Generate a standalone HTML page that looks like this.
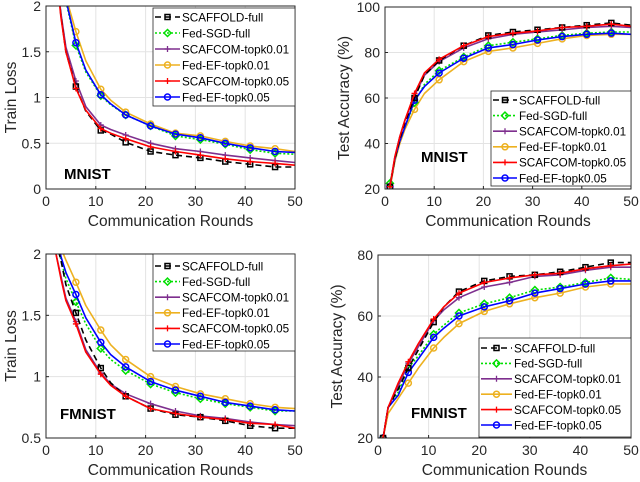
<!DOCTYPE html>
<html><head><meta charset="utf-8">
<style>
body{margin:0;background:#fff;}
svg{display:block;font-family:"Liberation Sans",sans-serif;}
</style></head>
<body>
<svg id="fig" width="640" height="482" viewBox="0 0 640 482" xmlns="http://www.w3.org/2000/svg"></svg>
<script>
// ---- series names / styles ----
const seriesNames = ["SCAFFOLD-full","Fed-SGD-full","SCAFCOM-topk0.01","Fed-EF-topk0.01","SCAFCOM-topk0.05","Fed-EF-topk0.05"];
// ---- Panel 1: MNIST train loss ----
const p1Rounds = [2,3,4,6,8,11,13,16,21,26,31,36,41,46,50];
const p1Scaffold = [2.4,1.9,1.5,1.12,0.85,0.64,0.6,0.51,0.41,0.37,0.34,0.30,0.27,0.24,0.24];
const p1FedSgd  = [3.0,2.4,2.05,1.57,1.28,1.02,0.92,0.81,0.69,0.58,0.54,0.49,0.43,0.39,0.38];
const p1Scafcom1 = [2.4,1.92,1.55,1.18,0.9,0.70,0.65,0.59,0.50,0.44,0.41,0.37,0.34,0.31,0.29];
const p1FedEf1 = [3.0,2.5,2.1,1.72,1.4,1.09,0.97,0.84,0.71,0.61,0.58,0.52,0.47,0.44,0.41];
const p1Scafcom5 = [2.4,1.88,1.5,1.1,0.86,0.66,0.61,0.55,0.46,0.41,0.37,0.33,0.30,0.28,0.26];
const p1FedEf5 = [3.0,2.45,2.07,1.60,1.3,1.03,0.93,0.81,0.69,0.60,0.56,0.50,0.45,0.41,0.40];
// ---- Panel 2: MNIST test accuracy ----
const p2Rounds = [1,2,3,4,6,8,11,16,21,26,31,36,41,46,50];
const p2Scaffold = [21,33,42,49,60,70,76.5,83,87.5,89,90,91,92,93,92];
const p2FedSgd  = [22.5,33,41,47,58,66,72,78,83,84.5,86,87.5,88.5,89,89];
const p2Scafcom1 = [21,34,43,50,61,70,76,82,86,88,89,90,91,91.5,91];
const p2FedEf1 = [20,32,40,46,55,62,68,76,80.5,82,84,86,87.5,88,88];
const p2Scafcom5 = [21,34,43,50,62,71,77,83,87,88.5,89.5,91,91.5,92.5,91.5];
const p2FedEf5 = [21,33,41,47,59,65,71,77.5,82,83.5,85.5,87,88,88.5,88];
// ---- Panel 3: FMNIST train loss ----
const p3Rounds = [2,3,4,6,8,11,13,16,21,26,31,36,41,46,50];
const p3Scaffold = [2.1,1.95,1.75,1.52,1.3,1.07,0.95,0.84,0.74,0.69,0.67,0.64,0.60,0.58,0.58];
const p3FedSgd  = [2.2,1.95,1.8,1.61,1.43,1.23,1.14,1.05,0.94,0.87,0.82,0.78,0.75,0.72,0.72];
const p3Scafcom1 = [2.0,1.82,1.64,1.45,1.22,1.03,0.94,0.86,0.78,0.72,0.68,0.66,0.63,0.61,0.60];
const p3FedEf1 = [2.3,2.05,1.95,1.77,1.58,1.38,1.26,1.14,1.0,0.92,0.86,0.82,0.78,0.75,0.74];
const p3Scafcom5 = [2.0,1.8,1.62,1.43,1.2,1.02,0.93,0.84,0.74,0.70,0.67,0.65,0.62,0.61,0.58];
const p3FedEf5 = [2.25,1.98,1.85,1.67,1.48,1.28,1.18,1.08,0.96,0.89,0.84,0.79,0.76,0.73,0.72];
// ---- Panel 4: FMNIST test accuracy ----
const p4Rounds = [1,2,4,6,8,11,13,16,21,26,31,36,41,46,50];
const p4Scaffold = [20,30,36,43,49,58,63,68,71.5,73,73.5,74.5,76,77.5,77.5];
const p4FedSgd  = [20,30,35,43,47,54,57,61,64,66,68.5,69.5,71,72.5,72];
const p4Scafcom1 = [20,30,37,44.5,50,58.5,62,66,69.5,71,73,73.5,75,76,76];
const p4FedEf1 = [20,28,33,38,43,49.5,53,57.5,61.5,64,66,67.5,69.5,70.5,70.5];
const p4Scafcom5 = [20,30,38,45,51,59,63,67.5,71,72.5,73.5,74,75.5,76.5,77];
const p4FedEf5 = [20,30,34,41.5,46,53,56,60,63,65,67.5,69,70.5,71.5,71.5];

const styles = [
 {c:"#000000",dash:"6,4",m:"square"},
 {c:"#00e000",dash:"2,2",m:"diamond"},
 {c:"#7E2F8E",dash:"",m:"plus"},
 {c:"#EDB120",dash:"",m:"circle"},
 {c:"#FF0000",dash:"",m:"plus"},
 {c:"#0000FF",dash:"",m:"circle"}
];
const NS="http://www.w3.org/2000/svg";
const svg=document.getElementById('fig');
function mk(tag,attrs,parent){const e=document.createElementNS(NS,tag);for(const k in attrs)e.setAttribute(k,attrs[k]);(parent||svg).appendChild(e);return e;}

function marker(g,type,x,y,c){
  let e;
  if(type==="square") e=mk('rect',{x:x-2.5,y:y-2.5,width:5,height:5,fill:"none",stroke:c,"stroke-width":1.5},g);
  else if(type==="diamond") e=mk('polygon',{points:`${x},${y-3.5} ${x+3.5},${y} ${x},${y+3.5} ${x-3.5},${y}`,fill:"none",stroke:c,"stroke-width":1.5},g);
  else if(type==="circle") e=mk('circle',{cx:x,cy:y,r:3,fill:"none",stroke:c,"stroke-width":1.5},g);
  else e=mk('path',{d:`M${x-3},${y}H${x+3}M${x},${y-3}V${y+3}`,stroke:c,"stroke-width":1.3},g);
  
  
}

function panel(cfg){
  const {id,x0,x1,y0,y1,ymin,ymax,yticks,ylabels,ytitle,rounds,series,dataset,dsx,dsy,leg}=cfg;
  const X=v=>x0+(v-0)/(50-0)*(x1-x0);
  const Y=v=>y1-(v-ymin)/(ymax-ymin)*(y1-y0);
  const g=mk('g',{});
  
  
  [0,10,20,30,40,50].forEach(t=>{ if(t>0&&t<50){const l=mk('line',{x1:X(t),x2:X(t),y1:y0,y2:y1,stroke:"#e3e3e3","stroke-width":1},g);}});
  yticks.forEach(t=>{ if(t>ymin&&t<ymax){const l=mk('line',{x1:x0,x2:x1,y1:Y(t),y2:Y(t),stroke:"#e3e3e3","stroke-width":1},g);}});
  const cp=mk('clipPath',{id:id+"-clip"},g);
  mk('rect',{x:x0,y:y0,width:x1-x0,height:y1-y0},cp);
  const sg=mk('g',{"clip-path":`url(#${id}-clip)`},g);
  
  
  const order=[3,1,5,2,0,4];
  order.forEach(i=>{
    const vals=series[i], st=styles[i];
    const pts=rounds.map((r,k)=>X(r).toFixed(1)+","+Y(vals[k]).toFixed(1)).join(" ");
    const pl=mk('polyline',{points:pts,fill:"none",stroke:st.c,"stroke-width":1.6,"stroke-dasharray":st.dash,"stroke-linejoin":"round"},sg);
    
    
    rounds.forEach((r,k)=>{ if(r%5===1 && vals[k]<=ymax) marker(sg,st.m,X(r),Y(vals[k]),st.c); });
  });
  const bx=mk('rect',{x:x0,y:y0,width:x1-x0,height:y1-y0,fill:"none",stroke:"#262626","stroke-width":1},g);
  
  
  [0,10,20,30,40,50].forEach(t=>{
    mk('line',{x1:X(t),x2:X(t),y1:y1,y2:y1-3,stroke:"#262626"},g);
    const tx=mk('text',{x:X(t),y:y1+17,"text-anchor":"middle","font-size":14,fill:"#262626"},g);
    tx.textContent=t;
    
    
  });
  yticks.forEach((t,k)=>{
    mk('line',{x1:x0,x2:x0+3,y1:Y(t),y2:Y(t),stroke:"#262626"},g);
    const tx=mk('text',{x:x0-5,y:Y(t)+5,"text-anchor":"end","font-size":14,fill:"#262626"},g);
    tx.textContent=ylabels[k];
    
    
  });
  const xt=mk('text',{x:(x0+x1)/2,y:y1+37,"text-anchor":"middle","font-size":15.5,fill:"#262626"},g);
  xt.textContent="Communication Rounds";
  
  
  const yt=mk('text',{x:0,y:0,"text-anchor":"middle","font-size":15.5,fill:"#262626",transform:`translate(${cfg.ytx},${(y0+y1)/2}) rotate(-90)`},g);
  yt.textContent=ytitle;
  
  
  const ds=mk('text',{x:dsx,y:dsy,"font-size":15,"font-weight":"bold",fill:"#000"},g);
  ds.textContent=dataset;
  
  
  const lg=mk('g',{},g);
  
  
  mk('rect',{x:leg.x,y:leg.y,width:leg.w,height:leg.h,fill:"#fff",stroke:"#262626","stroke-width":0.8},lg);
  seriesNames.forEach((n,i)=>{
    const ry=leg.ry0+i*leg.dy, st=styles[i];
    const e=mk('g',{},lg);
    
    
    mk('line',{x1:leg.sx0,x2:leg.sx1,y1:ry,y2:ry,stroke:st.c,"stroke-width":1.6,"stroke-dasharray":st.dash},e);
    marker(e,st.m,(leg.sx0+leg.sx1)/2,ry,st.c);
    const t=mk('text',{x:leg.tx,y:ry+4.3,"font-size":11.7,fill:"#000"},e);
    t.textContent=n;
  });
}

panel({id:"mnist-loss-panel",x0:46,x1:295,y0:6,y1:189,ymin:0,ymax:2,yticks:[0,0.5,1,1.5,2],ylabels:["0","0.5","1","1.5","2"],ytitle:"Train Loss",ytx:16,
  rounds:p1Rounds,series:[p1Scaffold,p1FedSgd,p1Scafcom1,p1FedEf1,p1Scafcom5,p1FedEf5],dataset:"MNIST",dsx:64,dsy:179,
  leg:{x:153,y:8,w:142,h:98,ry0:17,dy:16,sx0:155,sx1:180,tx:182}});
panel({id:"mnist-acc-panel",x0:385,x1:631,y0:7,y1:189,ymin:20,ymax:100,yticks:[20,40,60,80,100],ylabels:["20","40","60","80","100"],ytitle:"Test Accuracy (%)",ytx:349,
  rounds:p2Rounds,series:[p2Scaffold,p2FedSgd,p2Scafcom1,p2FedEf1,p2Scafcom5,p2FedEf5],dataset:"MNIST",dsx:421,dsy:162,
  leg:{x:491,y:91,w:140,h:95,ry0:100,dy:15.6,sx0:493,sx1:517,tx:519}});
panel({id:"fmnist-loss-panel",x0:46,x1:295,y0:254,y1:438,ymin:0.5,ymax:2,yticks:[0.5,1,1.5,2],ylabels:["0.5","1","1.5","2"],ytitle:"Train Loss",ytx:16,
  rounds:p3Rounds,series:[p3Scaffold,p3FedSgd,p3Scafcom1,p3FedEf1,p3Scafcom5,p3FedEf5],dataset:"FMNIST",dsx:60,dsy:419,
  leg:{x:153,y:254,w:142,h:97,ry0:266,dy:15.6,sx0:155,sx1:180,tx:182}});
panel({id:"fmnist-acc-panel",x0:378,x1:631,y0:255,y1:438,ymin:20,ymax:80,yticks:[20,40,60,80],ylabels:["20","40","60","80"],ytitle:"Test Accuracy (%)",ytx:342,
  rounds:p4Rounds,series:[p4Scaffold,p4FedSgd,p4Scafcom1,p4FedEf1,p4Scafcom5,p4FedEf5],dataset:"FMNIST",dsx:411,dsy:418,
  leg:{x:479,y:338,w:152,h:99,ry0:348,dy:15.4,sx0:481,sx1:512,tx:514}});
</script>
</body></html>
